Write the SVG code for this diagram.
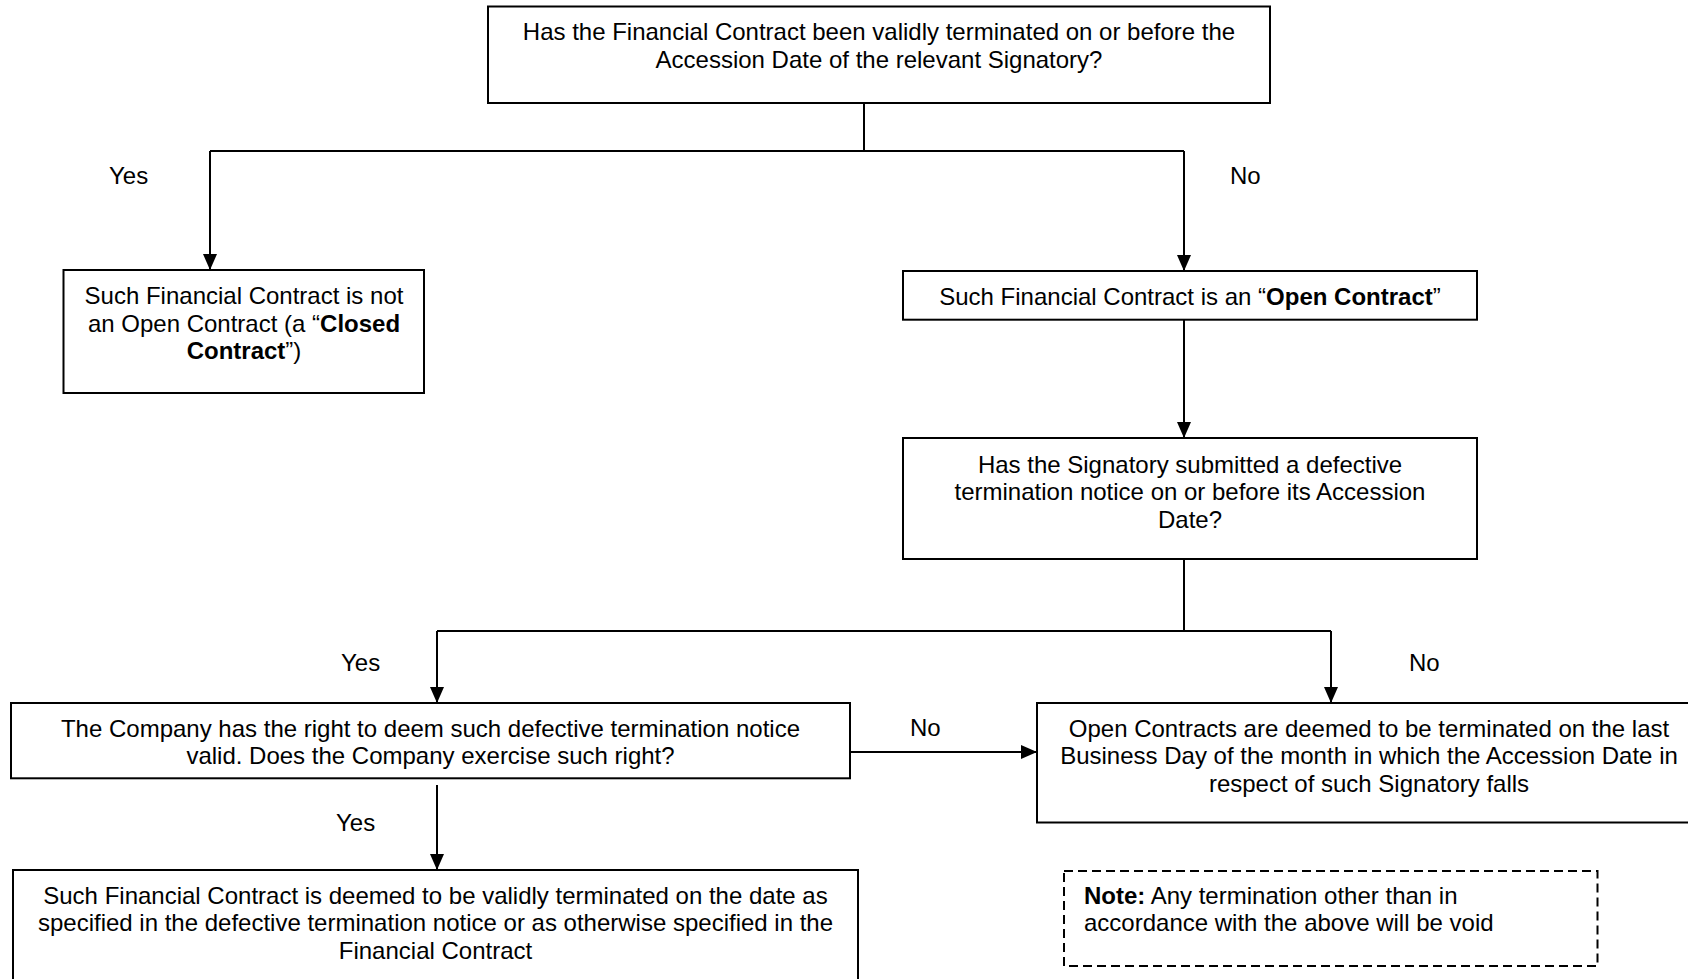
<svg xmlns="http://www.w3.org/2000/svg" width="1688" height="979" viewBox="0 0 1688 979">
<style>
.box{fill:#fff;stroke:#000;stroke-width:2}
.note{fill:#fff;stroke:#000;stroke-width:2;stroke-dasharray:9 5}
.t{font-family:"Liberation Sans",Arial,sans-serif;font-size:24px;fill:#000}
.c{text-anchor:middle}
.b{font-weight:bold}
.ln{fill:none;stroke:#000;stroke-width:2}
</style>
<defs>
<marker id="ah" markerUnits="userSpaceOnUse" markerWidth="16" markerHeight="14" viewBox="0 0 16 14" refX="16" refY="7" orient="auto">
<path d="M0,0 L16,7 L0,14 z" fill="#000"/>
</marker>
</defs>
<rect width="1688" height="979" fill="#fff"/>
<g id="connectors">
<path class="ln" d="M864,103 V151"/>
<path class="ln" d="M210,151 H1184"/>
<path class="ln" d="M210,151 V270" marker-end="url(#ah)"/>
<path class="ln" d="M1184,151 V271" marker-end="url(#ah)"/>
<path class="ln" d="M1184,320 V438" marker-end="url(#ah)"/>
<path class="ln" d="M1184,559 V631"/>
<path class="ln" d="M437,631 H1331"/>
<path class="ln" d="M437,631 V703" marker-end="url(#ah)"/>
<path class="ln" d="M1331,631 V703" marker-end="url(#ah)"/>
<path class="ln" d="M850,752 H1037" marker-end="url(#ah)"/>
<path class="ln" d="M437,785 V870" marker-end="url(#ah)"/>
<text class="t" x="109" y="184">Yes</text>
<text class="t" x="1230" y="184">No</text>
<text class="t" x="341" y="671">Yes</text>
<text class="t" x="1409" y="671">No</text>
<text class="t" x="910" y="736">No</text>
<text class="t" x="336" y="831">Yes</text>
</g>
<g id="n1">
<rect class="box" x="488" y="6.5" width="782" height="96.5"/>
<text class="t c" x="879" y="40">Has the Financial Contract been validly terminated on or before the</text>
<text class="t c" x="879" y="67.6">Accession Date of the relevant Signatory?</text>
</g>
<g id="n2">
<rect class="box" x="63.5" y="270" width="360.5" height="123"/>
<text class="t c" x="244" y="304">Such Financial Contract is not</text>
<text class="t c" x="244" y="331.6">an Open Contract (a “<tspan class="b">Closed</tspan></text>
<text class="t c" x="244" y="359.2"><tspan class="b">Contract</tspan>”)</text>
</g>
<g id="n3">
<rect class="box" x="903" y="271" width="574" height="48.7"/>
<text class="t c" x="1190" y="305">Such Financial Contract is an “<tspan class="b">Open Contract</tspan>”</text>
</g>
<g id="n4">
<rect class="box" x="903" y="438" width="574" height="121"/>
<text class="t c" x="1190" y="472.5">Has the Signatory submitted a defective</text>
<text class="t c" x="1190" y="500.1">termination notice on or before its Accession</text>
<text class="t c" x="1190" y="527.7">Date?</text>
</g>
<g id="n5">
<rect class="box" x="11" y="703" width="839" height="75.3"/>
<text class="t c" x="430.5" y="736.5">The Company has the right to deem such defective termination notice</text>
<text class="t c" x="430.5" y="764.1">valid. Does the Company exercise such right?</text>
</g>
<g id="n6">
<rect class="box" x="1037" y="703" width="664" height="119.5"/>
<text class="t c" x="1369" y="736.5">Open Contracts are deemed to be terminated on the last</text>
<text class="t c" x="1369" y="764.1">Business Day of the month in which the Accession Date in</text>
<text class="t c" x="1369" y="791.7">respect of such Signatory falls</text>
</g>
<g id="n7">
<rect class="box" x="13" y="870" width="845" height="130"/>
<text class="t c" x="435.5" y="903.5">Such Financial Contract is deemed to be validly terminated on the date as</text>
<text class="t c" x="435.5" y="931.1">specified in the defective termination notice or as otherwise specified in the</text>
<text class="t c" x="435.5" y="958.7">Financial Contract</text>
</g>
<g id="note">
<rect class="note" x="1064" y="871" width="533.5" height="95"/>
<text class="t" x="1084" y="903.5"><tspan class="b">Note:</tspan> Any termination other than in</text>
<text class="t" x="1084" y="931.1">accordance with the above will be void</text>
</g>
</svg>
